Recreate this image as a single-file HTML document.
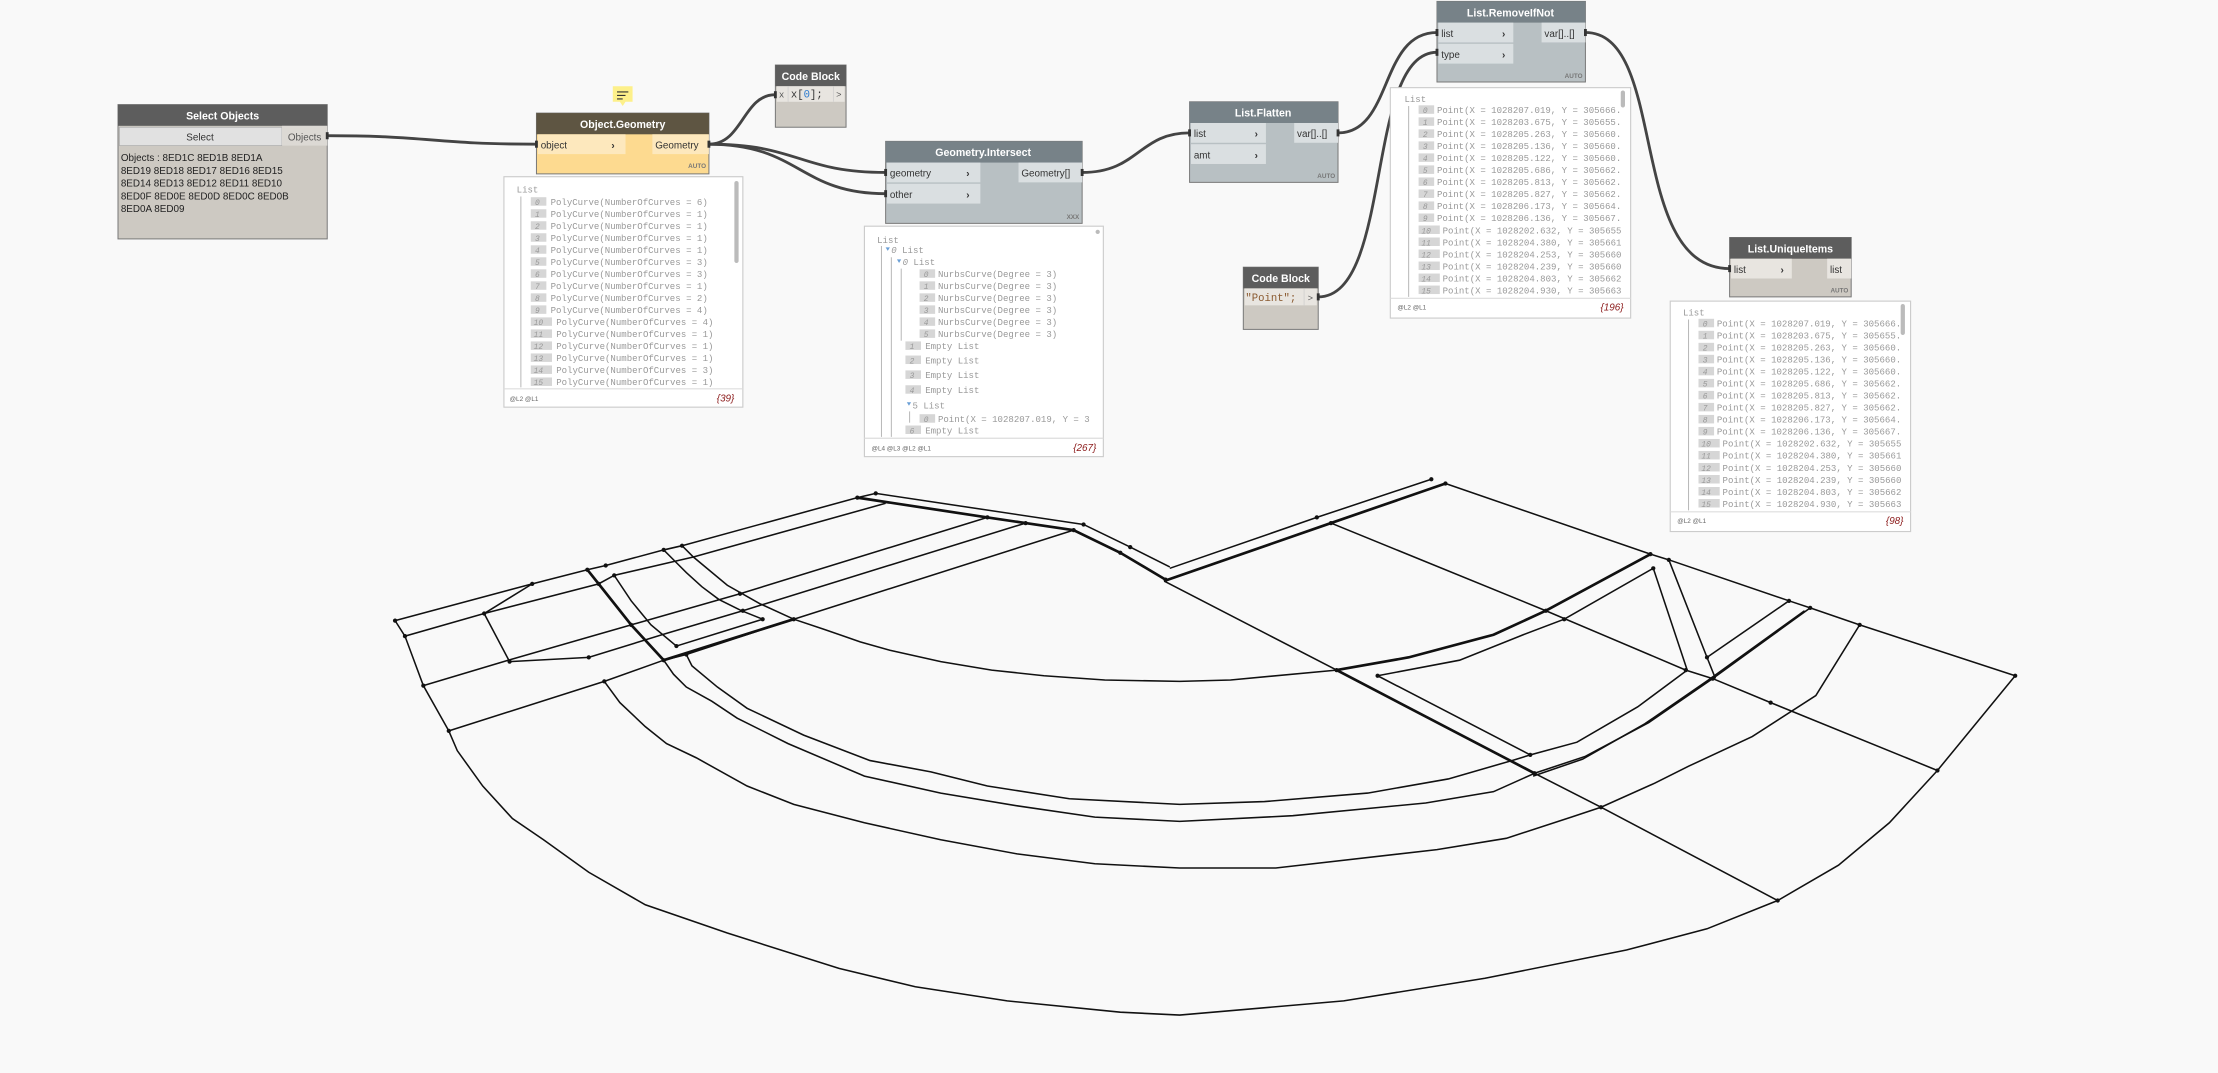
<!DOCTYPE html>
<html><head><meta charset="utf-8"><style>
html,body{margin:0;padding:0;background:#f9f9f9;}
svg{display:block;}
.h{font-family:"Liberation Sans",sans-serif;font-weight:bold;font-size:7.5px;fill:#fff;text-anchor:middle;}
.p{font-family:"Liberation Sans",sans-serif;font-size:7px;fill:#333;}
.m{font-family:"Liberation Mono",monospace;font-size:6.4px;fill:#999;}
.i{font-family:"Liberation Mono",monospace;font-size:5.6px;fill:#999;font-style:italic;}
.f{font-family:"Liberation Sans",sans-serif;font-size:4.5px;fill:#666;}
.c{font-family:"Liberation Sans",sans-serif;font-size:7px;fill:#8b1a1a;font-style:italic;text-anchor:end;}
.a{font-family:"Liberation Sans",sans-serif;font-size:4.5px;fill:#777;font-weight:bold;text-anchor:end;}
.g{fill:none;stroke:#111;stroke-width:1.1;}
.gt{fill:none;stroke:#111;stroke-width:1.9;}
.w{fill:none;stroke:#444;stroke-width:2;}
</style></head><body>
<svg width="2218" height="1073" viewBox="0 0 1568 759" xmlns="http://www.w3.org/2000/svg">
<rect width="1568" height="759" fill="#f9f9f9"/>

<!-- GEOMETRY -->
<g>
<polyline class="g" points="279,439 286,450 299,485 317,517"/>
<polyline class="g" points="279,439 376,413 415,403 428,400 469,389 482,386 606,352"/>
<polyline class="g" points="376,413 342,434 360,468"/>
<polyline class="g" points="286,450 342,434 423,413 434,407 477,397 490,394 626,356"/>
<polyline class="g" points="619,349 766,371 799,387 827,401"/>
<polyline class="gt" points="606,352 698,366 725,370 759,375 792,391 824,410"/>
<polyline class="g" points="299,485 359,467 446,442 523,420 698,366"/>
<polyline class="g" points="360,468 416,465 471,448 525,432 725,370"/>
<polyline class="g" points="317,517 427,482 469,467 485,463 561,438 759,375"/>
<polyline class="gt" points="469,467 561,438"/>
<polyline class="g" points="478,457 539,438"/>
<polyline class="g" points="469,389 477,397 485,405 496,415 508,424 524,432 539,438"/>
<polyline class="g" points="434,407 446,425 460,442 478,457"/>
<polyline class="gt" points="415,403 423,413 446,442 469,467"/>
<polyline class="g" points="482,386 490,394 514,414 537,427 561,438 582,445 608,454 629,460 665,468 701,474 738,478 781,481 834,482 870,481 945,474"/>
<polyline class="gt" points="945,474 996,465 1056,449 1093,432 1167,392"/>
<polyline class="g" points="427,482 438,497 456,514 471,526 492,536 528,556 561,569 611,582 665,594 719,604 774,611 834,614 902,614 1016,601 1065,593 1111,578 1132,571 1170,554 1194,542 1239,521 1284,492 1315,442"/>
<polyline class="g" points="469,467 476,477 485,486 503,496 521,508 557,526 611,549 665,561 719,570 774,578 834,581 914,577 1008,568 1056,560 1085,547"/>
<polyline class="g" points="485,463 489,471 507,486 528,501 568,520 615,538 658,546 698,556 756,565 834,569 894,567 967,561 1024,551 1069,538 1082,534"/>
<polyline class="g" points="317,517 323,531 341,556 362,579 384,594 416,617 456,640 514,660 593,685 647,698 712,708 792,716 834,718 950,708 1050,692 1150,672 1207,657 1257,637 1300,612 1336,582 1370,545 1425,478"/>
<polyline class="g" points="606,352 619,349"/>
<polyline class="g" points="1012,339 931,366 827,402"/>
<polyline class="gt" points="1022,342 941,370 823,411"/>
<polyline class="g" points="1022,342 1167,392 1180,396 1265,425 1280,430 1315,442 1425,478"/>
<polyline class="g" points="941,370 1093,432 1192,474 1211,480 1252,497 1370,545"/>
<polyline class="g" points="823,411 945,474 1085,547 1132,571 1257,637"/>
<polyline class="gt" points="945,474 1085,547"/>
<polyline class="g" points="974,478 1032,467 1077,449 1106,438 1169,402 1193,474"/>
<polyline class="g" points="974,478 1082,534 1115,525 1158,500 1193,474"/>
<polyline class="g" points="1180,396 1207,465 1213,480"/>
<polyline class="g" points="1207,465 1265,425"/>
<polyline class="g" points="1280,430 1211,480 1166,511 1121,535 1085,547"/>
<polyline class="g" points="1276,432 1208,481 1163,512 1119,537 1084,549"/>
</g>
<g fill="#111">
<circle cx="279" cy="439" r="1.5"/><circle cx="286" cy="450" r="1.5"/><circle cx="299" cy="485" r="1.5"/><circle cx="317" cy="517" r="1.5"/>
<circle cx="376" cy="413" r="1.5"/><circle cx="415" cy="403" r="1.5"/><circle cx="428" cy="400" r="1.5"/><circle cx="469" cy="389" r="1.5"/>
<circle cx="482" cy="386" r="1.5"/><circle cx="606" cy="352" r="1.5"/><circle cx="619" cy="349" r="1.5"/><circle cx="342" cy="434" r="1.5"/>
<circle cx="360" cy="468" r="1.5"/><circle cx="416" cy="465" r="1.5"/><circle cx="423" cy="413" r="1.5"/><circle cx="434" cy="407" r="1.5"/>
<circle cx="446" cy="442" r="1.5"/><circle cx="469" cy="467" r="1.5"/><circle cx="478" cy="457" r="1.5"/><circle cx="485" cy="463" r="1.5"/>
<circle cx="523" cy="420" r="1.5"/><circle cx="539" cy="438" r="1.5"/><circle cx="561" cy="438" r="1.5"/><circle cx="698" cy="366" r="1.5"/>
<circle cx="725" cy="370" r="1.5"/><circle cx="759" cy="375" r="1.5"/><circle cx="766" cy="371" r="1.5"/><circle cx="799" cy="387" r="1.5"/>
<circle cx="792" cy="391" r="1.5"/><circle cx="824" cy="410" r="1.5"/><circle cx="427" cy="482" r="1.5"/><circle cx="525" cy="432" r="1.5"/>
<circle cx="1012" cy="339" r="1.5"/><circle cx="1022" cy="342" r="1.5"/><circle cx="931" cy="366" r="1.5"/><circle cx="941" cy="370" r="1.5"/>
<circle cx="945" cy="474" r="1.5"/><circle cx="1093" cy="432" r="1.5"/><circle cx="1167" cy="392" r="1.5"/><circle cx="1180" cy="396" r="1.5"/>
<circle cx="1265" cy="425" r="1.5"/><circle cx="1280" cy="430" r="1.5"/><circle cx="1315" cy="442" r="1.5"/><circle cx="1425" cy="478" r="1.5"/>
<circle cx="1370" cy="545" r="1.5"/><circle cx="1257" cy="637" r="1.5"/><circle cx="1132" cy="571" r="1.5"/><circle cx="1085" cy="547" r="1.5"/>
<circle cx="1192" cy="474" r="1.5"/><circle cx="1211" cy="480" r="1.5"/><circle cx="1252" cy="497" r="1.5"/><circle cx="974" cy="478" r="1.5"/>
<circle cx="1082" cy="534" r="1.5"/><circle cx="1207" cy="465" r="1.5"/><circle cx="1169" cy="402" r="1.5"/><circle cx="1106" cy="438" r="1.5"/>
</g>

<!-- WIRES -->
<path class="w" d="M231,96 C305,96 305,102 379,102"/>
<path class="w" d="M501,102 C525,102 525,67 548,67"/>
<path class="w" d="M501,102 C565,102 565,122 626,122"/>
<path class="w" d="M501,102 C565,102 565,137 626,137"/>
<path class="w" d="M765,122 C805,122 805,94 841,94"/>
<path class="w" d="M946,94 C985,94 975,23 1016,23"/>
<path class="w" d="M932,210 C985,210 965,37 1016,37"/>
<path class="w" d="M1121,23 C1180,23 1150,190 1223,190"/>

<!-- SELECT OBJECTS -->
<rect x="83" y="74" width="148" height="95" fill="#cdc9c2" stroke="#777" stroke-width="0.7"/>
<rect x="83" y="74" width="148" height="15" fill="#5d5d5d"/>
<text class="h" x="157" y="84.5">Select Objects</text>
<rect x="84" y="90" width="115" height="13" fill="#e1e1e1" stroke="#aaa" stroke-width="0.5"/>
<text class="p" x="141" y="99.5" text-anchor="middle">Select</text>
<rect x="199" y="89" width="32" height="14" fill="#dcd9d4"/>
<text class="p" x="215" y="99.5" text-anchor="middle" style="fill:#555">Objects</text>
<text class="p" x="85" y="114" style="fill:#222">Objects : 8ED1C 8ED1B 8ED1A</text>
<text class="p" x="85" y="123" style="fill:#222">8ED19 8ED18 8ED17 8ED16 8ED15</text>
<text class="p" x="85" y="132" style="fill:#222">8ED14 8ED13 8ED12 8ED11 8ED10</text>
<text class="p" x="85" y="141" style="fill:#222">8ED0F 8ED0E 8ED0D 8ED0C 8ED0B</text>
<text class="p" x="85" y="150" style="fill:#222">8ED0A 8ED09</text>

<!-- NOTE ICON -->
<path d="M433,61 h14 v11 h-5 l-2,3 l-2,-3 h-5 z" fill="#fdf08a"/>
<path d="M436,65 h8 M436,67.5 h6 M436,70 h4" stroke="#333" stroke-width="0.8"/>

<!-- OBJECT.GEOMETRY -->
<rect x="379" y="80" width="122" height="43" fill="#fdda90" stroke="#777" stroke-width="0.7"/>
<rect x="379" y="80" width="122" height="15" fill="#5e5542"/>
<text class="h" x="440" y="90.5">Object.Geometry</text>
<rect x="380" y="95" width="62" height="14" fill="#fde8bd"/>
<text class="p" x="382" y="105">object</text>
<text class="p" x="432" y="105" font-weight="bold">›</text>
<rect x="461" y="95" width="40" height="14" fill="#fde8bd"/>
<text class="p" x="463" y="105">Geometry</text>
<text class="a" x="499" y="119">AUTO</text>

<!-- PREVIEW 1 -->
<rect x="356" y="125" width="169" height="163" fill="#fff" stroke="#ccc" stroke-width="0.8"/>
<line x1="356" y1="275" x2="525" y2="275" stroke="#ddd" stroke-width="0.8"/>
<rect x="519" y="128" width="3" height="58" rx="1.5" fill="#bbb"/>
<line x1="368" y1="139" x2="368" y2="274" stroke="#aaa" stroke-width="0.6"/>
<text class="m" x="365" y="136">List</text>
<g>
<rect x="375" y="139.5" width="11" height="6" fill="#d6d6d6"/><text class="i" x="378" y="145">0</text><text class="m" x="389" y="145">PolyCurve(NumberOfCurves = 6)</text>
<rect x="375" y="148" width="11" height="6" fill="#d6d6d6"/><text class="i" x="378" y="153.5">1</text><text class="m" x="389" y="153.5">PolyCurve(NumberOfCurves = 1)</text>
<rect x="375" y="156.5" width="11" height="6" fill="#d6d6d6"/><text class="i" x="378" y="162">2</text><text class="m" x="389" y="162">PolyCurve(NumberOfCurves = 1)</text>
<rect x="375" y="165" width="11" height="6" fill="#d6d6d6"/><text class="i" x="378" y="170.5">3</text><text class="m" x="389" y="170.5">PolyCurve(NumberOfCurves = 1)</text>
<rect x="375" y="173.5" width="11" height="6" fill="#d6d6d6"/><text class="i" x="378" y="179">4</text><text class="m" x="389" y="179">PolyCurve(NumberOfCurves = 1)</text>
<rect x="375" y="182" width="11" height="6" fill="#d6d6d6"/><text class="i" x="378" y="187.5">5</text><text class="m" x="389" y="187.5">PolyCurve(NumberOfCurves = 3)</text>
<rect x="375" y="190.5" width="11" height="6" fill="#d6d6d6"/><text class="i" x="378" y="196">6</text><text class="m" x="389" y="196">PolyCurve(NumberOfCurves = 3)</text>
<rect x="375" y="199" width="11" height="6" fill="#d6d6d6"/><text class="i" x="378" y="204.5">7</text><text class="m" x="389" y="204.5">PolyCurve(NumberOfCurves = 1)</text>
<rect x="375" y="207.5" width="11" height="6" fill="#d6d6d6"/><text class="i" x="378" y="213">8</text><text class="m" x="389" y="213">PolyCurve(NumberOfCurves = 2)</text>
<rect x="375" y="216" width="11" height="6" fill="#d6d6d6"/><text class="i" x="378" y="221.5">9</text><text class="m" x="389" y="221.5">PolyCurve(NumberOfCurves = 4)</text>
<rect x="375" y="224.5" width="15" height="6" fill="#d6d6d6"/><text class="i" x="377" y="230">10</text><text class="m" x="393" y="230">PolyCurve(NumberOfCurves = 4)</text>
<rect x="375" y="233" width="15" height="6" fill="#d6d6d6"/><text class="i" x="377" y="238.5">11</text><text class="m" x="393" y="238.5">PolyCurve(NumberOfCurves = 1)</text>
<rect x="375" y="241.5" width="15" height="6" fill="#d6d6d6"/><text class="i" x="377" y="247">12</text><text class="m" x="393" y="247">PolyCurve(NumberOfCurves = 1)</text>
<rect x="375" y="250" width="15" height="6" fill="#d6d6d6"/><text class="i" x="377" y="255.5">13</text><text class="m" x="393" y="255.5">PolyCurve(NumberOfCurves = 1)</text>
<rect x="375" y="258.5" width="15" height="6" fill="#d6d6d6"/><text class="i" x="377" y="264">14</text><text class="m" x="393" y="264">PolyCurve(NumberOfCurves = 3)</text>
<rect x="375" y="267" width="15" height="6" fill="#d6d6d6"/><text class="i" x="377" y="272.5">15</text><text class="m" x="393" y="272.5">PolyCurve(NumberOfCurves = 1)</text>
</g>
<rect x="357" y="275.5" width="167" height="12" fill="#fff"/>
<text class="f" x="360" y="283.5">@L2 @L1</text>
<text class="c" x="519" y="284">{39}</text>

<!-- CODE BLOCK 1 -->
<rect x="548" y="46" width="50" height="44" fill="#cdc9c2" stroke="#777" stroke-width="0.7"/>
<rect x="548" y="46" width="50" height="15" fill="#5d5d5d"/>
<text class="h" x="573" y="56.5">Code Block</text>
<rect x="549" y="61" width="48" height="11" fill="#e8e5e0"/>
<line x1="557" y1="61" x2="557" y2="72" stroke="#ccc" stroke-width="0.5"/>
<line x1="589" y1="61" x2="589" y2="72" stroke="#ccc" stroke-width="0.5"/>
<text class="m" x="550.5" y="69" style="fill:#555">x</text>
<text class="m" x="559" y="69" style="fill:#333;font-size:7.5px">x[<tspan style="fill:#2a7ad0">0</tspan>];</text>
<text class="m" x="591" y="69" style="fill:#555">&gt;</text>

<!-- GEOMETRY.INTERSECT -->
<rect x="626" y="100" width="139" height="58" fill="#b8c0c3" stroke="#777" stroke-width="0.7"/>
<rect x="626" y="100" width="139" height="15" fill="#778288"/>
<text class="h" x="695" y="110.5">Geometry.Intersect</text>
<rect x="627" y="115" width="66" height="14" fill="#dadfe1"/>
<text class="p" x="629" y="125">geometry</text><text class="p" x="683" y="125" font-weight="bold">›</text>
<rect x="627" y="130" width="66" height="14" fill="#dadfe1"/>
<text class="p" x="629" y="140">other</text><text class="p" x="683" y="140" font-weight="bold">›</text>
<rect x="720" y="115" width="45" height="14" fill="#dadfe1"/>
<text class="p" x="722" y="125">Geometry[]</text>
<text class="a" x="763" y="155">XXX</text>

<!-- PREVIEW 2 -->
<rect x="611" y="160" width="169" height="163" fill="#fff" stroke="#ccc" stroke-width="0.8"/>
<line x1="611" y1="310" x2="780" y2="310" stroke="#ddd" stroke-width="0.8"/>
<circle cx="776" cy="164" r="1.5" fill="#bbb"/>
<line x1="623" y1="174" x2="623" y2="309" stroke="#aaa" stroke-width="0.6"/>
<line x1="630" y1="182" x2="630" y2="309" stroke="#aaa" stroke-width="0.6"/>
<line x1="637" y1="190" x2="637" y2="241" stroke="#aaa" stroke-width="0.6"/>
<text class="m" x="620" y="172">List</text>
<path d="M626,175 l3,0 l-1.5,2.5 z" fill="#6a9fd6"/><text class="m" x="630" y="179"><tspan font-style="italic">0</tspan> List</text>
<path d="M634,183.5 l3,0 l-1.5,2.5 z" fill="#6a9fd6"/><text class="m" x="638" y="187.5"><tspan font-style="italic">0</tspan> List</text>
<g>
<rect x="650" y="190.5" width="11" height="6" fill="#d6d6d6"/><text class="i" x="653" y="196">0</text><text class="m" x="663" y="196">NurbsCurve(Degree = 3)</text>
<rect x="650" y="199" width="11" height="6" fill="#d6d6d6"/><text class="i" x="653" y="204.5">1</text><text class="m" x="663" y="204.5">NurbsCurve(Degree = 3)</text>
<rect x="650" y="207.5" width="11" height="6" fill="#d6d6d6"/><text class="i" x="653" y="213">2</text><text class="m" x="663" y="213">NurbsCurve(Degree = 3)</text>
<rect x="650" y="216" width="11" height="6" fill="#d6d6d6"/><text class="i" x="653" y="221.5">3</text><text class="m" x="663" y="221.5">NurbsCurve(Degree = 3)</text>
<rect x="650" y="224.5" width="11" height="6" fill="#d6d6d6"/><text class="i" x="653" y="230">4</text><text class="m" x="663" y="230">NurbsCurve(Degree = 3)</text>
<rect x="650" y="233" width="11" height="6" fill="#d6d6d6"/><text class="i" x="653" y="238.5">5</text><text class="m" x="663" y="238.5">NurbsCurve(Degree = 3)</text>
<rect x="640" y="241.5" width="11" height="6" fill="#d6d6d6"/><text class="i" x="643" y="247">1</text><text class="m" x="654" y="247">Empty List</text>
<rect x="640" y="251.5" width="11" height="6" fill="#d6d6d6"/><text class="i" x="643" y="257">2</text><text class="m" x="654" y="257">Empty List</text>
<rect x="640" y="262" width="11" height="6" fill="#d6d6d6"/><text class="i" x="643" y="267.5">3</text><text class="m" x="654" y="267.5">Empty List</text>
<rect x="640" y="272.5" width="11" height="6" fill="#d6d6d6"/><text class="i" x="643" y="278">4</text><text class="m" x="654" y="278">Empty List</text>
<path d="M641,284.5 l3,0 l-1.5,2.5 z" fill="#6a9fd6"/><text class="m" x="645" y="289">5 List</text>
<line x1="643" y1="291" x2="643" y2="299" stroke="#aaa" stroke-width="0.6"/>
<rect x="650" y="293" width="11" height="6" fill="#d6d6d6"/><text class="i" x="653" y="298.5">0</text><text class="m" x="663" y="298.5">Point(X = 1028207.019, Y = 3(</text>
<rect x="640" y="301" width="11" height="6" fill="#d6d6d6"/><text class="i" x="643" y="306.5">6</text><text class="m" x="654" y="306.5">Empty List</text>
</g>
<rect x="771" y="290" width="8" height="19" fill="#fff"/>
<text class="f" x="616" y="318.5">@L4 @L3 @L2 @L1</text>
<text class="c" x="775" y="319">{267}</text>

<!-- LIST.FLATTEN -->
<rect x="841" y="72" width="105" height="57" fill="#b8c0c3" stroke="#777" stroke-width="0.7"/>
<rect x="841" y="72" width="105" height="15" fill="#778288"/>
<text class="h" x="893" y="82.5">List.Flatten</text>
<rect x="842" y="87" width="53" height="14" fill="#dadfe1"/>
<text class="p" x="844" y="97">list</text><text class="p" x="887" y="97" font-weight="bold">›</text>
<rect x="842" y="102" width="53" height="14" fill="#dadfe1"/>
<text class="p" x="844" y="112">amt</text><text class="p" x="887" y="112" font-weight="bold">›</text>
<rect x="915" y="87" width="31" height="14" fill="#dadfe1"/>
<text class="p" x="917" y="97">var[]..[]</text>
<text class="a" x="944" y="126">AUTO</text>

<!-- CODE BLOCK 2 -->
<rect x="879" y="189" width="53" height="44" fill="#cdc9c2" stroke="#777" stroke-width="0.7"/>
<rect x="879" y="189" width="53" height="15" fill="#5d5d5d"/>
<text class="h" x="905.5" y="199.5">Code Block</text>
<rect x="880" y="204" width="51" height="12" fill="#e8e5e0"/>
<text class="m" x="880.5" y="213" style="fill:#8a5a30;font-size:7.5px">"Point";</text>
<line x1="922" y1="204" x2="922" y2="216" stroke="#ccc" stroke-width="0.5"/>
<text class="m" x="924.5" y="213" style="fill:#555">&gt;</text>

<!-- LIST.REMOVEIFNOT -->
<rect x="1016" y="1" width="105" height="57" fill="#b8c0c3" stroke="#777" stroke-width="0.7"/>
<rect x="1016" y="1" width="105" height="15" fill="#778288"/>
<text class="h" x="1068" y="11.5">List.RemoveIfNot</text>
<rect x="1017" y="16" width="53" height="14" fill="#dadfe1"/>
<text class="p" x="1019" y="26">list</text><text class="p" x="1062" y="26" font-weight="bold">›</text>
<rect x="1017" y="31" width="53" height="14" fill="#dadfe1"/>
<text class="p" x="1019" y="41">type</text><text class="p" x="1062" y="41" font-weight="bold">›</text>
<rect x="1090" y="16" width="31" height="14" fill="#dadfe1"/>
<text class="p" x="1092" y="26">var[]..[]</text>
<text class="a" x="1119" y="55">AUTO</text>

<!-- PREVIEW 3 -->
<rect x="983" y="62" width="170" height="163" fill="#fff" stroke="#ccc" stroke-width="0.8"/>
<line x1="983" y1="211" x2="1153" y2="211" stroke="#ddd" stroke-width="0.8"/>
<rect x="1146" y="64" width="3" height="12" rx="1.5" fill="#bbb"/>
<line x1="996" y1="75" x2="996" y2="210" stroke="#aaa" stroke-width="0.6"/>
<text class="m" x="993" y="72">List</text>
<g>
<rect x="1003" y="74.5" width="11" height="6" fill="#d6d6d6"/><text class="i" x="1006" y="80">0</text><text class="m" x="1016" y="80">Point(X = 1028207.019, Y = 305666.</text>
<rect x="1003" y="83" width="11" height="6" fill="#d6d6d6"/><text class="i" x="1006" y="88.5">1</text><text class="m" x="1016" y="88.5">Point(X = 1028203.675, Y = 305655.</text>
<rect x="1003" y="91.5" width="11" height="6" fill="#d6d6d6"/><text class="i" x="1006" y="97">2</text><text class="m" x="1016" y="97">Point(X = 1028205.263, Y = 305660.</text>
<rect x="1003" y="100" width="11" height="6" fill="#d6d6d6"/><text class="i" x="1006" y="105.5">3</text><text class="m" x="1016" y="105.5">Point(X = 1028205.136, Y = 305660.</text>
<rect x="1003" y="108.5" width="11" height="6" fill="#d6d6d6"/><text class="i" x="1006" y="114">4</text><text class="m" x="1016" y="114">Point(X = 1028205.122, Y = 305660.</text>
<rect x="1003" y="117" width="11" height="6" fill="#d6d6d6"/><text class="i" x="1006" y="122.5">5</text><text class="m" x="1016" y="122.5">Point(X = 1028205.686, Y = 305662.</text>
<rect x="1003" y="125.5" width="11" height="6" fill="#d6d6d6"/><text class="i" x="1006" y="131">6</text><text class="m" x="1016" y="131">Point(X = 1028205.813, Y = 305662.</text>
<rect x="1003" y="134" width="11" height="6" fill="#d6d6d6"/><text class="i" x="1006" y="139.5">7</text><text class="m" x="1016" y="139.5">Point(X = 1028205.827, Y = 305662.</text>
<rect x="1003" y="142.5" width="11" height="6" fill="#d6d6d6"/><text class="i" x="1006" y="148">8</text><text class="m" x="1016" y="148">Point(X = 1028206.173, Y = 305664.</text>
<rect x="1003" y="151" width="11" height="6" fill="#d6d6d6"/><text class="i" x="1006" y="156.5">9</text><text class="m" x="1016" y="156.5">Point(X = 1028206.136, Y = 305667.</text>
<rect x="1003" y="159.5" width="15" height="6" fill="#d6d6d6"/><text class="i" x="1005" y="165">10</text><text class="m" x="1020" y="165">Point(X = 1028202.632, Y = 305655</text>
<rect x="1003" y="168" width="15" height="6" fill="#d6d6d6"/><text class="i" x="1005" y="173.5">11</text><text class="m" x="1020" y="173.5">Point(X = 1028204.380, Y = 305661</text>
<rect x="1003" y="176.5" width="15" height="6" fill="#d6d6d6"/><text class="i" x="1005" y="182">12</text><text class="m" x="1020" y="182">Point(X = 1028204.253, Y = 305660</text>
<rect x="1003" y="185" width="15" height="6" fill="#d6d6d6"/><text class="i" x="1005" y="190.5">13</text><text class="m" x="1020" y="190.5">Point(X = 1028204.239, Y = 305660</text>
<rect x="1003" y="193.5" width="15" height="6" fill="#d6d6d6"/><text class="i" x="1005" y="199">14</text><text class="m" x="1020" y="199">Point(X = 1028204.803, Y = 305662</text>
<rect x="1003" y="202" width="15" height="6" fill="#d6d6d6"/><text class="i" x="1005" y="207.5">15</text><text class="m" x="1020" y="207.5">Point(X = 1028204.930, Y = 305663</text>
</g>
<text class="f" x="988" y="219">@L2 @L1</text>
<text class="c" x="1148" y="219.5">{196}</text>

<!-- LIST.UNIQUEITEMS -->
<rect x="1223" y="168" width="86" height="42" fill="#cdc9c2" stroke="#777" stroke-width="0.7"/>
<rect x="1223" y="168" width="86" height="15" fill="#5d5d5d"/>
<text class="h" x="1266" y="178.5">List.UniqueItems</text>
<rect x="1224" y="183" width="43" height="14" fill="#e8e5e0"/>
<text class="p" x="1226" y="193">list</text><text class="p" x="1259" y="193" font-weight="bold">›</text>
<rect x="1292" y="183" width="17" height="14" fill="#e8e5e0"/>
<text class="p" x="1294" y="193">list</text>
<text class="a" x="1307" y="207">AUTO</text>

<!-- PREVIEW 4 -->
<rect x="1181" y="213" width="170" height="163" fill="#fff" stroke="#ccc" stroke-width="0.8"/>
<line x1="1181" y1="362" x2="1351" y2="362" stroke="#ddd" stroke-width="0.8"/>
<rect x="1344" y="215" width="3" height="22" rx="1.5" fill="#bbb"/>
<line x1="1194" y1="226" x2="1194" y2="361" stroke="#aaa" stroke-width="0.6"/>
<text class="m" x="1190" y="223">List</text>
<g>
<rect x="1201" y="225.5" width="11" height="6" fill="#d6d6d6"/><text class="i" x="1204" y="231">0</text><text class="m" x="1214" y="231">Point(X = 1028207.019, Y = 305666.</text>
<rect x="1201" y="234" width="11" height="6" fill="#d6d6d6"/><text class="i" x="1204" y="239.5">1</text><text class="m" x="1214" y="239.5">Point(X = 1028203.675, Y = 305655.</text>
<rect x="1201" y="242.5" width="11" height="6" fill="#d6d6d6"/><text class="i" x="1204" y="248">2</text><text class="m" x="1214" y="248">Point(X = 1028205.263, Y = 305660.</text>
<rect x="1201" y="251" width="11" height="6" fill="#d6d6d6"/><text class="i" x="1204" y="256.5">3</text><text class="m" x="1214" y="256.5">Point(X = 1028205.136, Y = 305660.</text>
<rect x="1201" y="259.5" width="11" height="6" fill="#d6d6d6"/><text class="i" x="1204" y="265">4</text><text class="m" x="1214" y="265">Point(X = 1028205.122, Y = 305660.</text>
<rect x="1201" y="268" width="11" height="6" fill="#d6d6d6"/><text class="i" x="1204" y="273.5">5</text><text class="m" x="1214" y="273.5">Point(X = 1028205.686, Y = 305662.</text>
<rect x="1201" y="276.5" width="11" height="6" fill="#d6d6d6"/><text class="i" x="1204" y="282">6</text><text class="m" x="1214" y="282">Point(X = 1028205.813, Y = 305662.</text>
<rect x="1201" y="285" width="11" height="6" fill="#d6d6d6"/><text class="i" x="1204" y="290.5">7</text><text class="m" x="1214" y="290.5">Point(X = 1028205.827, Y = 305662.</text>
<rect x="1201" y="293.5" width="11" height="6" fill="#d6d6d6"/><text class="i" x="1204" y="299">8</text><text class="m" x="1214" y="299">Point(X = 1028206.173, Y = 305664.</text>
<rect x="1201" y="302" width="11" height="6" fill="#d6d6d6"/><text class="i" x="1204" y="307.5">9</text><text class="m" x="1214" y="307.5">Point(X = 1028206.136, Y = 305667.</text>
<rect x="1201" y="310.5" width="15" height="6" fill="#d6d6d6"/><text class="i" x="1203" y="316">10</text><text class="m" x="1218" y="316">Point(X = 1028202.632, Y = 305655</text>
<rect x="1201" y="319" width="15" height="6" fill="#d6d6d6"/><text class="i" x="1203" y="324.5">11</text><text class="m" x="1218" y="324.5">Point(X = 1028204.380, Y = 305661</text>
<rect x="1201" y="327.5" width="15" height="6" fill="#d6d6d6"/><text class="i" x="1203" y="333">12</text><text class="m" x="1218" y="333">Point(X = 1028204.253, Y = 305660</text>
<rect x="1201" y="336" width="15" height="6" fill="#d6d6d6"/><text class="i" x="1203" y="341.5">13</text><text class="m" x="1218" y="341.5">Point(X = 1028204.239, Y = 305660</text>
<rect x="1201" y="344.5" width="15" height="6" fill="#d6d6d6"/><text class="i" x="1203" y="350">14</text><text class="m" x="1218" y="350">Point(X = 1028204.803, Y = 305662</text>
<rect x="1201" y="353" width="15" height="6" fill="#d6d6d6"/><text class="i" x="1203" y="358.5">15</text><text class="m" x="1218" y="358.5">Point(X = 1028204.930, Y = 305663</text>
</g>
<text class="f" x="1186" y="370">@L2 @L1</text>
<text class="c" x="1346" y="370.5">{98}</text>

<!-- port nubs -->
<g fill="#333">
<rect x="230" y="93.5" width="2" height="5"/><rect x="378" y="99.5" width="2" height="5"/>
<rect x="500" y="99.5" width="2" height="5"/><rect x="547" y="64.5" width="2" height="5"/>
<rect x="625" y="119.5" width="2" height="5"/><rect x="625" y="134.5" width="2" height="5"/>
<rect x="764" y="119.5" width="2" height="5"/><rect x="840" y="91.5" width="2" height="5"/>
<rect x="945" y="91.5" width="2" height="5"/><rect x="931" y="207.5" width="2" height="5"/>
<rect x="1015" y="20.5" width="2" height="5"/><rect x="1015" y="34.5" width="2" height="5"/>
<rect x="1120" y="20.5" width="2" height="5"/><rect x="1222" y="187.5" width="2" height="5"/>
</g>
</svg>
</body></html>
